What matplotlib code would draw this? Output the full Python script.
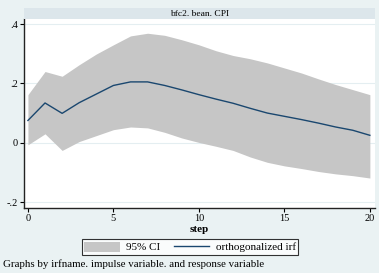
import matplotlib

matplotlib.use("Agg")

import matplotlib.pyplot as plt
from matplotlib.patches import Patch
from matplotlib.lines import Line2D

BG = "#eaf2f3"
STRIP = "#dce6eb"
BAND = "#c6c6c6"
NAVY = "#1a476f"
GRID = "#e4eef1"

steps = list(range(21))
irf = [0.075, 0.134, 0.099, 0.135, 0.164, 0.193, 0.205, 0.205, 0.193, 0.178, 0.162,
       0.147, 0.133, 0.116, 0.100, 0.089, 0.078, 0.066, 0.053, 0.042, 0.025]
upper = [0.162, 0.240, 0.224, 0.263, 0.299, 0.330, 0.360, 0.369, 0.362, 0.347, 0.330,
         0.310, 0.294, 0.283, 0.269, 0.252, 0.235, 0.215, 0.196, 0.179, 0.162]
lower = [-0.007, 0.030, -0.026, 0.004, 0.024, 0.044, 0.053, 0.050, 0.035, 0.016, 0.001,
         -0.012, -0.026, -0.048, -0.066, -0.078, -0.087, -0.097, -0.105, -0.111, -0.119]
yticks = [-0.2, 0, 0.2, 0.4]
ylabels = ["-.2", "0", ".2", ".4"]
xticks = [0, 5, 10, 15, 20]

plt.rcParams["font.family"] = ["Liberation Serif", "DejaVu Serif"]

W, H = 379, 273
fig = plt.figure(figsize=(W / 100, H / 100), dpi=100, facecolor=BG)

# main plot area (pixel box: x 24-375, y 19-208)
ax = fig.add_axes([24 / W, 1 - 208 / H, 351 / W, 189 / H])
ax.set_facecolor("white")
ax.fill_between(steps, lower, upper, color=BAND, lw=0, zorder=2)
ax.plot(steps, irf, color=NAVY, lw=1.0, zorder=3)

ax.set_xlim(-0.23, 20.3)
ax.set_ylim(-0.22, 0.417)
ax.set_yticks(yticks)
ax.set_yticklabels(ylabels)
ax.set_xticks(xticks)
ax.yaxis.grid(True, color=GRID, lw=0.8, zorder=0)
ax.set_axisbelow(True)
for side in ("top", "right"):
    ax.spines[side].set_visible(False)
for side in ("left", "bottom"):
    ax.spines[side].set_color("#222222")
    ax.spines[side].set_linewidth(1.0)
ax.tick_params(direction="out", length=3, width=0.8, labelsize=7.5, pad=1.5)
ax.set_xlabel("step", fontsize=8, fontweight="bold", labelpad=1.5)

# title strip
strip = fig.add_axes([24 / W, 1 - 19 / H, 351 / W, 11 / H])
strip.set_facecolor(STRIP)
strip.set_xticks([])
strip.set_yticks([])
for s in strip.spines.values():
    s.set_visible(False)
strip.text(0.5, 0.5, "bfc2. bean. CPI", ha="center", va="center", fontsize=6.8,
           transform=strip.transAxes)

handles = [Patch(facecolor=BAND, edgecolor="none"), Line2D([], [], color=NAVY, lw=1.0)]
leg = fig.legend(handles, ["95% CI", "orthogonalized irf"], loc="center",
                 bbox_to_anchor=(190 / W, 1 - 247 / H), ncol=2, fontsize=8,
                 frameon=True, fancybox=False, edgecolor="black", facecolor="white",
                 handlelength=3.2, handleheight=1.0, columnspacing=1.2,
                 borderpad=0.2, handletextpad=0.6)
leg.get_frame().set_linewidth(0.8)

fig.text(3 / W, 1 - 264 / H, "Graphs by irfname. impulse variable. and response variable",
         ha="left", va="center", fontsize=7.8)

fig.savefig("out.png", dpi=100, facecolor=BG)
